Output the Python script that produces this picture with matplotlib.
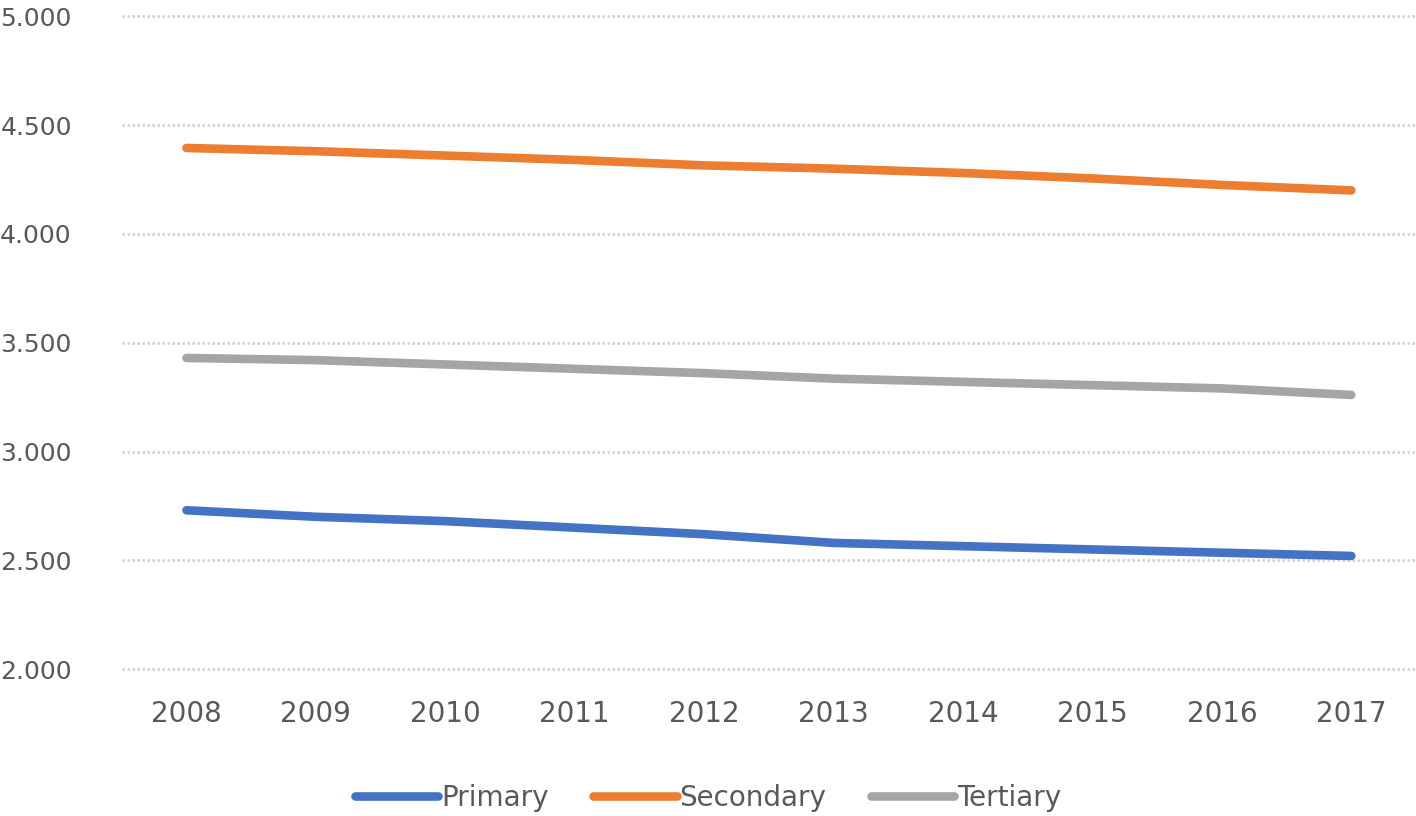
import numpy as np
import matplotlib.pyplot as plt

# --- data ---
years = ['2008', '2009', '2010', '2011', '2012', '2013', '2014', '2015', '2016', '2017']
primary = [2.73, 2.70, 2.68, 2.65, 2.62, 2.58, 2.565, 2.55, 2.535, 2.52]
secondary = [4.395, 4.38, 4.36, 4.34, 4.315, 4.30, 4.28, 4.255, 4.225, 4.20]
tertiary = [3.43, 3.42, 3.40, 3.38, 3.36, 3.335, 3.32, 3.305, 3.29, 3.26]
yticks = [2.0, 2.5, 3.0, 3.5, 4.0, 4.5, 5.0]
ytick_labels = ['2.000', '2.500', '3.000', '3.500', '4.000', '4.500', '5.000']

series = [('Primary', primary, '#4472C4'),
          ('Secondary', secondary, '#ED7D31'),
          ('Tertiary', tertiary, '#A5A5A5')]

plt.rcParams['font.family'] = 'DejaVu Sans'
text_col = '#595959'

fig = plt.figure(figsize=(14.16, 8.16), dpi=100)
ax = fig.add_axes([0.086, 0.180, 0.914, 0.800])

x = np.arange(len(years))
for name, vals, col in series:
    ax.plot(x, vals, color=col, lw=6.2, solid_capstyle='round', label=name)

ax.set_xlim(-0.5, len(years) - 0.5)
ax.set_ylim(2.0, 5.0)
ax.set_xticks(x)
ax.set_xticklabels(years)
ax.set_yticks(yticks)
ax.set_yticklabels(ytick_labels)
ax.tick_params(axis='both', length=0, colors=text_col)
ax.tick_params(axis='x', labelsize=20, pad=22)
ax.tick_params(axis='y', labelsize=18, pad=36)

ax.grid(axis='y', color='#CFCFCF', linestyle=(0, (1, 1)), linewidth=1.8)
for gl in ax.get_ygridlines():
    gl.set_clip_on(False)
ax.set_axisbelow(True)
for s in ax.spines.values():
    s.set_visible(False)

fig.legend(loc='center', bbox_to_anchor=(0.50, 0.022), ncol=3, frameon=False,
           fontsize=20, labelcolor=text_col, handlelength=3.0,
           handletextpad=0.1, columnspacing=1.6)

fig.savefig('out.png', dpi=100)
